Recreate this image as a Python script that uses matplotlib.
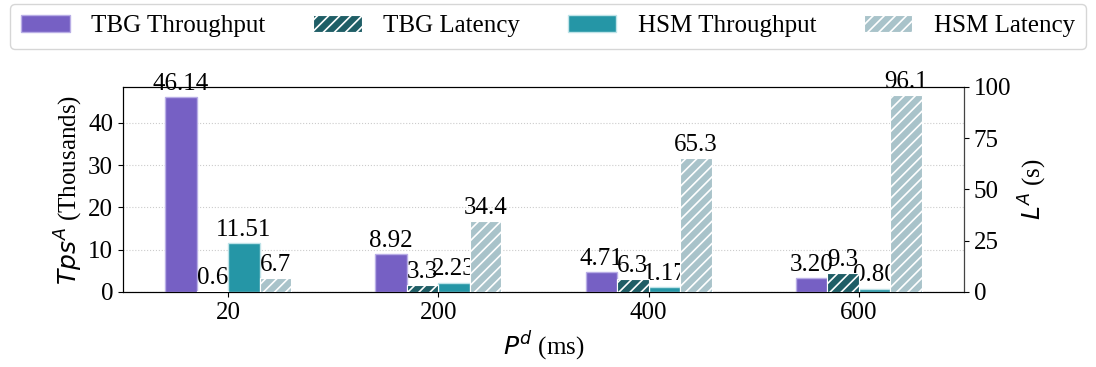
import matplotlib.pyplot as plt
import numpy as np

plt.rcParams["font.family"] = ["Liberation Serif", "DejaVu Sans"]
plt.rcParams["hatch.color"] = "white"
plt.rcParams["hatch.linewidth"] = 1.2

delays = ["20", "200", "400", "600"]
tbg_tps = [46.14, 8.92, 4.71, 3.20]
tbg_lat = [0.6, 3.3, 6.3, 9.3]
hsm_tps = [11.51, 2.23, 1.17, 0.80]
hsm_lat = [6.7, 34.4, 65.3, 96.1]

c_tbg_tps = "#7660C4"
c_tbg_lat = "#1F5E66"
c_hsm_tps = "#2596A6"
c_hsm_lat = "#A9C3CA"

fs = 18
x = np.arange(len(delays))
w = 0.15

fig = plt.figure(figsize=(10.96, 3.67), dpi=100)
ax = fig.add_axes([0.1122, 0.2044, 0.7674, 0.5586])
ax2 = ax.twinx()

b1 = ax.bar(x - 1.5 * w, tbg_tps, w, color=c_tbg_tps, edgecolor="#B9AEE6",
            linewidth=1, label="TBG Throughput", zorder=3)
b2 = ax2.bar(x - 0.5 * w, tbg_lat, w, color=c_tbg_lat, edgecolor="white",
             hatch="///", linewidth=0.8, label="TBG Latency", zorder=3)
b3 = ax.bar(x + 0.5 * w, hsm_tps, w, color=c_hsm_tps, edgecolor="#BFE3E8",
            linewidth=1, label="HSM Throughput", zorder=3)
b4 = ax2.bar(x + 1.5 * w, hsm_lat, w, color=c_hsm_lat, edgecolor="white",
             hatch="///", linewidth=0.8, label="HSM Latency", zorder=3)

for bars, vals in [(b1, tbg_tps), (b3, hsm_tps)]:
    for r, v in zip(bars, vals):
        ax.text(r.get_x() + r.get_width() / 2, v + 0.5, f"{v:.2f}",
                ha="center", va="bottom", fontsize=fs, zorder=5)
for bars, vals in [(b2, tbg_lat), (b4, hsm_lat)]:
    for r, v in zip(bars, vals):
        ax2.text(r.get_x() + r.get_width() / 2, v + 1.0, f"{v:.1f}",
                 ha="center", va="bottom", fontsize=fs, zorder=5)

ax.set_xlim(-0.5, 3.5)
ax.set_ylim(0, 48.45)
ax2.set_ylim(0, 100)
ax.set_yticks([0, 10, 20, 30, 40])
ax2.set_yticks([0, 25, 50, 75, 100])
ax.set_xticks(x)
ax.set_xticklabels(delays)
ax.tick_params(axis="both", labelsize=fs)
ax2.tick_params(axis="y", labelsize=fs)
ax2.spines["right"].set_color("#444444")
ax.yaxis.grid(True, linestyle=":", color="#CCCCCC", linewidth=0.8, zorder=0)
ax.set_axisbelow(True)

ax.set_xlabel(r"$P^d$ (ms)", fontsize=fs)
ax.set_ylabel(r"$Tps^A$ (Thousands)", fontsize=fs, labelpad=2)
ax2.set_ylabel(r"$L^A$ (s)", fontsize=fs)

fig.legend(handles=[b1, b2, b3, b4], loc="upper center",
           bbox_to_anchor=(0.5, 0.99), ncol=4, fontsize=18, frameon=True,
           handlelength=1.95, handletextpad=0.85, columnspacing=1.9,
           borderaxespad=0, borderpad=0.45)

fig.savefig("out.png", dpi=100)
